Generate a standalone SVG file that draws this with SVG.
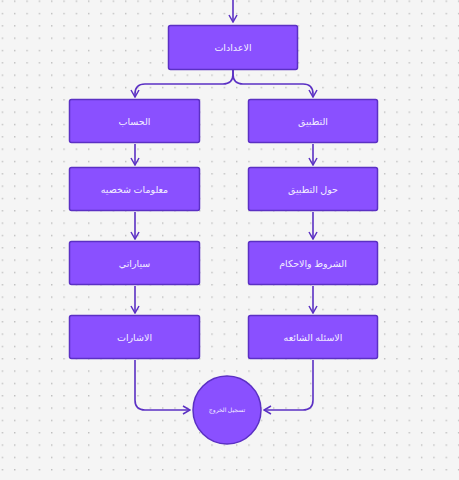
<svg xmlns="http://www.w3.org/2000/svg" width="459" height="480" viewBox="0 0 459 480">
<style>
.n{fill:#8a50ff;stroke:#5b30c4;stroke-width:1.5}
.t{fill:#f3eeff;font-family:"Noto Sans","DejaVu Sans",sans-serif;font-size:9.5px;text-anchor:middle;dominant-baseline:central}
.c{fill:none;stroke:#5b30c4;stroke-width:1.6}
</style>
<defs>
<pattern id="dots" width="12.33" height="12.33" patternUnits="userSpaceOnUse" x="1.7" y="0.5">
<rect x="0" y="0" width="1.4" height="1.4" fill="#bdbdbd"/>
</pattern>
<marker id="a" viewBox="0 0 10 10" refX="9" refY="5" markerWidth="10" markerHeight="10" orient="auto-start-reverse" markerUnits="userSpaceOnUse">
<path d="M2,1 L9,5 L2,9" fill="none" stroke="#5b30c4" stroke-width="1.5"/>
</marker>
</defs>
<rect width="459" height="480" fill="#f5f5f5"/>
<rect width="459" height="480" fill="url(#dots)"/>
<g id="connectors">
<path class="c" marker-end="url(#a)" d="M233,0 V22"/>
<path class="c" marker-end="url(#a)" d="M233,70 V74 Q233,84 223,84 H145 Q135,84 135,94 V97"/>
<path class="c" marker-end="url(#a)" d="M233,70 V74 Q233,84 243,84 H303 Q313,84 313,94 V97"/>
<path class="c" marker-end="url(#a)" d="M135,144 V165"/>
<path class="c" marker-end="url(#a)" d="M313,144 V165"/>
<path class="c" marker-end="url(#a)" d="M135,212 V239"/>
<path class="c" marker-end="url(#a)" d="M313,212 V239"/>
<path class="c" marker-end="url(#a)" d="M135,286 V313"/>
<path class="c" marker-end="url(#a)" d="M313,286 V313"/>
<path class="c" marker-end="url(#a)" d="M135,360 V400 Q135,410 145,410 H190"/>
<path class="c" marker-end="url(#a)" d="M313,360 V400 Q313,410 303,410 H264"/>
</g>
<g id="settings"><rect class="n" x="168.5" y="25.5" width="129" height="44" rx="2"/><text class="t" x="233" y="47.5">الاعدادات</text></g>
<g id="account"><rect class="n" x="69.5" y="99.5" width="130" height="43" rx="2"/><text class="t" x="134.5" y="121">الحساب</text></g>
<g id="app"><rect class="n" x="248.5" y="99.5" width="129" height="43" rx="2"/><text class="t" x="313" y="121">التطبيق</text></g>
<g id="personal"><rect class="n" x="69.5" y="167.5" width="130" height="43" rx="2"/><text class="t" x="134.5" y="189">معلومات شخصيه</text></g>
<g id="about"><rect class="n" x="248.5" y="167.5" width="129" height="43" rx="2"/><text class="t" x="313" y="189">حول التطبيق</text></g>
<g id="cars"><rect class="n" x="69.5" y="241.5" width="130" height="43" rx="2"/><text class="t" x="134.5" y="263">سياراتي</text></g>
<g id="terms"><rect class="n" x="248.5" y="241.5" width="129" height="43" rx="2"/><text class="t" x="313" y="263">الشروط والاحكام</text></g>
<g id="signals"><rect class="n" x="69.5" y="315.5" width="130" height="43" rx="2"/><text class="t" x="134.5" y="337">الاشارات</text></g>
<g id="faq"><rect class="n" x="248.5" y="315.5" width="129" height="43" rx="2"/><text class="t" x="313" y="337">الاسئله الشائعه</text></g>
<g id="logout"><circle class="n" cx="227" cy="410" r="34"/><text class="t" x="227" y="410" style="font-size:6px">تسجيل الخروج</text></g>
</svg>
